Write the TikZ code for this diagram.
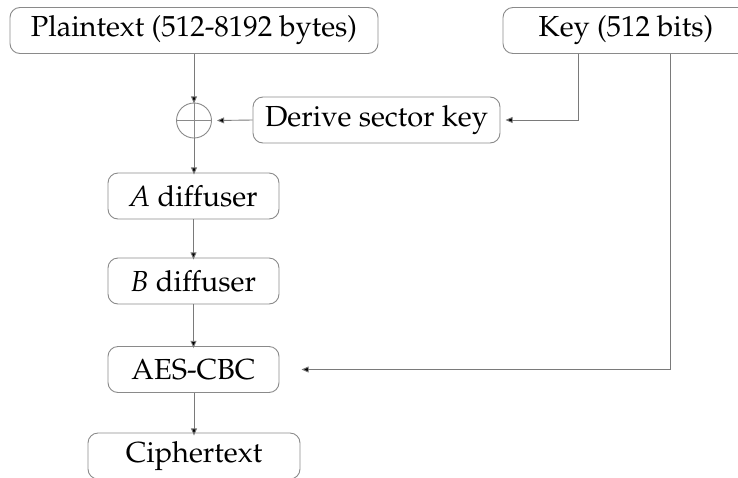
\documentclass[tikz,border=0pt]{standalone}
\usepackage[T1]{fontenc}
\usepackage{mathpazo}
\usepackage{tikz}
\usetikzlibrary{arrows.meta, positioning}
\definecolor{boxgray}{HTML}{8A8A8A}
\definecolor{linegray}{HTML}{7A7A7A}

\begin{document}
\begin{tikzpicture}[
        x=0.5pt, y=-0.5pt,
        font=\fontsize{14.5}{17}\selectfont,
        every node/.style={align=center},
        blk/.style={rectangle, rounded corners=5pt, draw=boxgray, line width=0.45pt,
                    minimum height=23pt, inner sep=0pt},
        xorop/.style={circle, draw=boxgray, line width=0.45pt, minimum size=17.5pt,
                      inner sep=0pt},
        flow/.style={draw=linegray, line width=0.45pt,
                     -{Triangle[length=3.6pt, width=3pt, fill=black]}}
    ]
        \useasboundingbox (0,0) rectangle (738,477);

        \node[blk, minimum width=184pt] (plain) at (194,30.5) {Plaintext (512-8192 bytes)};
        \node[blk, minimum width=123pt] (key) at (626,30.5) {Key (512 bits)};
        \node[xorop] (xor) at (194,120.5) {};
        \draw[boxgray, line width=0.45pt] (xor.north) -- (xor.south) (xor.west) -- (xor.east);
        \node[blk, minimum width=123.5pt] (derive) at (376.5,120) {Derive sector key};
        \node[blk, minimum width=85.5pt] (adiff) at (193.5,196) {\textit{A} diffuser};
        \node[blk, minimum width=85.5pt] (bdiff) at (193.5,281) {\textit{B} diffuser};
        \node[blk, minimum width=85.5pt] (aes) at (193.5,369.5) {AES-CBC};
        \node[blk, minimum width=106pt] (cipher) at (194,456) {Ciphertext};

        % main path
        \draw[flow] (plain.south -| xor) -- ([yshift=-0.5pt]xor.north);
        \draw[flow] (xor.south) -- ([yshift=-1pt]adiff.north -| xor);
        \draw[flow] (adiff) -- ([yshift=-1pt]bdiff.north);
        \draw[flow] (bdiff) -- ([yshift=-1pt]aes.north);
        \draw[flow] (aes.south -| xor) -- ([yshift=-1.5pt]cipher.north -| xor);

        % key schedule
        \draw[flow] (derive.west) -- ([xshift=2.5pt]xor.east);
        \draw[flow] (key.south -| 578,0) |- ([xshift=2.5pt]derive.east);
        \draw[flow] (key.south -| 670,0) |- ([xshift=11pt]aes.east);
\end{tikzpicture}
\end{document}
